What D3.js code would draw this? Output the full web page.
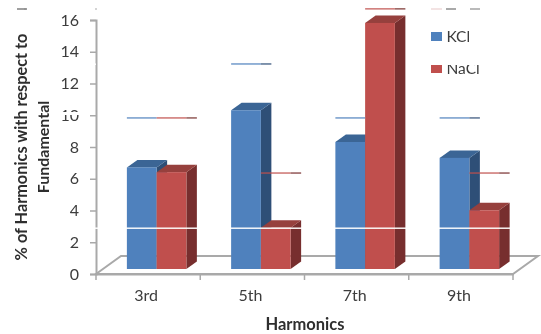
<!DOCTYPE html>
<html><head><meta charset="utf-8">
<script src="https://cdn.jsdelivr.net/npm/d3@7"></script>
<style>html,body{margin:0;padding:0;background:#fff}svg{display:block}text{font-family:Lato,"Open Sans",sans-serif}</style>
</head><body><div id="c"></div>
<script>
const categories=["3rd","5th","7th","9th"];
const seriesNames=["KCl","NaCl"];
const kcl=[6.4,10.0,8.0,7.0];
const nacl=[6.1,2.6,15.5,3.7];
const yTicks=[0,2,4,6,8,10,12,14,16];
const stray=[["3rd","KCl",9.83,0],["3rd","NaCl",9.83,1],["5th","KCl",13.23,1],["5th","NaCl",6.36,1],["7th","KCl",9.83,0],["7th","NaCl",16.7,1],["9th","KCl",9.83,1],["9th","NaCl",6.36,1]];
const W=541,H=334,L=96,R=513,base=274,top0=20;
const colors={KCl:["#4f81bd","#3a6595","#2f4f77"],NaCl:["#c0504d","#963f3c","#772f2d"]};
const ink="#3c3c3c";
const svg=d3.select("#c").append("svg").attr("width",W).attr("height",H);
const defs=svg.append("defs");
defs.append("filter").attr("id","b").append("feGaussianBlur").attr("stdDeviation",0.45);
const root=svg.append("g").attr("filter","url(#b)");
const x=d3.scaleBand().domain(categories).range([L,R]);
const y=d3.scaleLinear().domain([0,16]).range([base,top0]);
const s=d3.scaleBand().domain(seriesNames).range([0,59.5]);
const off=(x.bandwidth()-59.5)/2+8.5, lift=5, dx=10.5, dy=7.5, fd=25, fh=18;
const grey="#a9a9a9";
// floor
root.append("path").attr("fill","none").attr("stroke",grey).attr("stroke-width",2)
 .attr("d",`M${L},${base}L${L+fd},${base-fh}H${R+fd}L${R},${base}Z`);
const yAxis=root.append("g").attr("transform",`translate(${L},0)`)
 .call(d3.axisLeft(y).tickValues(yTicks).tickSize(6).tickPadding(11));
yAxis.select(".domain").attr("stroke",grey).attr("stroke-width",2);
yAxis.selectAll(".tick line").attr("stroke",grey).attr("stroke-width",1.5);
yAxis.selectAll("text").attr("font-size",16).attr("fill",ink).style("font-family","Lato");
const xAxis=root.append("g").attr("transform",`translate(0,${base})`)
 .call(d3.axisBottom(x).tickSize(0).tickPadding(16));
xAxis.select(".domain").attr("stroke",grey).attr("stroke-width",2);
xAxis.selectAll("text").attr("font-size",16).attr("fill",ink).attr("dx",-2).style("font-family","Lato");
root.append("g").selectAll("line").data(d3.range(categories.length+1)).join("line")
 .attr("x1",i=>L+i*x.step()).attr("x2",i=>L+i*x.step()).attr("y1",base).attr("y2",base+6)
 .attr("stroke",grey).attr("stroke-width",1.5);
// bars
const rows=categories.flatMap((c,i)=>[{c,n:"KCl",v:kcl[i]},{c,n:"NaCl",v:nacl[i]}]);
const bx=d=>x(d.c)+off+s(d.n), by=d=>y(d.v)-lift, bb=y(0)-lift, bw=s.bandwidth();
const g=root.append("g").selectAll("g").data(rows).join("g");
g.append("path").attr("fill",d=>colors[d.n][2])
 .attr("d",d=>`M${bx(d)+bw},${by(d)}l${dx},${-dy}V${bb-dy}l${-dx},${dy}Z`);
g.append("path").attr("fill",d=>colors[d.n][1])
 .attr("d",d=>`M${bx(d)},${by(d)}l${dx},${-dy}h${bw}l${-dx},${dy}Z`);
g.append("rect").attr("x",bx).attr("y",by).attr("width",bw).attr("height",d=>bb-by(d)).attr("fill",d=>colors[d.n][0]);
// titles
root.append("text").attr("x",305).attr("y",330).attr("text-anchor","middle").attr("font-size",16.5).attr("font-weight",700).attr("fill","#2e2e2e").text("Harmonics");
root.append("g").attr("transform","translate(27,147) rotate(-90)").append("text").attr("text-anchor","middle").attr("font-size",16.3).attr("font-weight",700).attr("fill","#2e2e2e").text("% of Harmonics with respect to");
root.append("g").attr("transform","translate(49,147) rotate(-90)").append("text").attr("text-anchor","middle").attr("font-size",16).attr("font-weight",700).attr("fill","#2e2e2e").text("Fundamental");
// legend
const lg=root.append("g").selectAll("g").data(seriesNames).join("g").attr("transform",(d,i)=>`translate(431,${32+i*32})`);
lg.append("rect").attr("width",11).attr("height",9).attr("fill",d=>colors[d][0]);
lg.append("text").attr("x",15.5).attr("y",10).attr("font-size",15.5).attr("fill",ink).text(d=>d);
// scan dropouts
const white=[[35,63.5,61,1.4],[428,61,60,4],[58,112,26,3],[95,227.5,420,1.4]];
root.append("g").selectAll("rect").data(white).join("rect")
 .attr("x",d=>d[0]).attr("y",d=>d[1]).attr("width",d=>d[2]).attr("height",d=>d[3]).attr("fill","#fff");
const st=root.append("g").selectAll("g").data(stray).join("g");
st.append("line").attr("x1",d=>x(d[0])+off+s(d[1])).attr("x2",d=>x(d[0])+off+s(d[1])+bw)
 .attr("y1",d=>y(d[2])).attr("y2",d=>y(d[2])).attr("stroke",d=>colors[d[1]][0]).attr("stroke-width",1.2);
st.filter(d=>d[3]).append("line").attr("x1",d=>x(d[0])+off+s(d[1])+bw).attr("x2",d=>x(d[0])+off+s(d[1])+bw+dx)
 .attr("y1",d=>y(d[2])).attr("y2",d=>y(d[2])).attr("stroke",d=>colors[d[1]][2]).attr("stroke-width",1.2);
// remnants of the clipped top row
const remnants=[[17,10,"#444"],[24,2,"#888"],[95,2,"#aaa"],[431,11,"#e8c8c8"],[446,10,"#555"],[470,10,"#777"]];
root.append("g").selectAll("rect").data(remnants).join("rect")
 .attr("x",d=>d[0]).attr("y",8.5).attr("width",d=>d[1]).attr("height",1).attr("fill",d=>d[2]);
</script></body></html>
